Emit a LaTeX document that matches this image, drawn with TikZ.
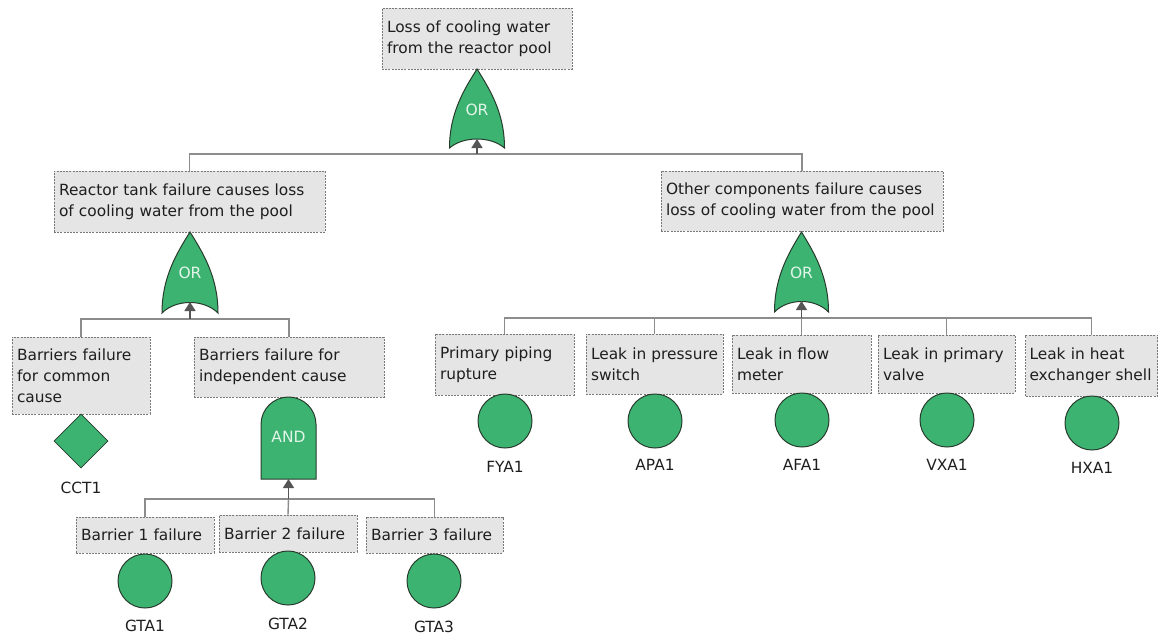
\documentclass[tikz,border=0pt]{standalone}
\usepackage{fontspec}
\setmainfont{DejaVu Sans}
\usetikzlibrary{arrows.meta,shapes.geometric}
\definecolor{gfill}{RGB}{60,179,113}
\definecolor{gline}{RGB}{40,60,45}
\definecolor{busc}{RGB}{140,140,140}
\definecolor{arrc}{RGB}{85,85,85}
\definecolor{boxfill}{RGB}{229,229,229}
\definecolor{boxline}{RGB}{120,120,120}
\definecolor{gtext}{RGB}{225,245,232}
\definecolor{txt}{RGB}{30,30,30}
\tikzset{
  evbox/.style={draw=boxline, fill=boxfill, line width=0.8pt, dash pattern=on 2pt off 1.2pt,
    align=left, inner xsep=5pt, inner ysep=0pt, text=txt, font=\fontsize{15.4}{21}\selectfont},
  gate/.style={draw=gline, fill=gfill, line width=1pt},
  gatetxt/.style={text=gtext, font=\fontsize{15.5}{18}\selectfont, inner sep=0pt},
  basic/.style={circle, draw=gline, fill=gfill, line width=1pt, minimum size=54pt, inner sep=0pt},
  undev/.style={diamond, aspect=1, draw=gline, fill=gfill, line width=0.8pt, minimum width=54pt, minimum height=54pt, inner sep=0pt},
  lab/.style={text=txt, font=\fontsize{15.4}{18}\selectfont, inner sep=0pt},
  bus/.style={draw=busc, line width=1.4pt},
  arr/.style={draw=arrc, line width=1.6pt, -{Triangle[width=11pt,length=9pt]}}
}
\newcommand\orgate[5]{% tip x, tip y, bottom y, half width, arc depth
  \draw[gate] (#1,#2) .. controls ({#1-0.45*#4},{#2+0.25*(#3-#2)}) and (#1-#4,{#3-0.45*(#3-#2)}) .. (#1-#4,#3)
    .. controls (#1-#4/2,#3-#5) and (#1+#4/2,#3-#5) .. (#1+#4,#3)
    .. controls (#1+#4,{#3-0.45*(#3-#2)}) and ({#1+0.45*#4},{#2+0.25*(#3-#2)}) .. (#1,#2) -- cycle;}
\begin{document}
\begin{tikzpicture}[x=1pt,y=-1pt]
\useasboundingbox[fill=white] (0,0) rectangle (1158,635);

% event boxes
\node[evbox, minimum width=190pt, text width=180pt, minimum height=61pt] (top) at (477,38.5)
  {Loss of cooling water\\from the reactor pool};
\node[evbox, minimum width=271pt, text width=261pt, minimum height=61pt] (L1) at (189.5,201.5)
  {Reactor tank failure causes loss\\of cooling water from the pool};
\node[evbox, minimum width=282pt, text width=272pt, minimum height=60pt] (R1) at (802,201)
  {Other components failure causes\\loss of cooling water from the pool};
\node[evbox, minimum width=138pt, text width=128pt, minimum height=77pt] (L2a) at (81,375.5)
  {Barriers failure\\for common\\cause};
\node[evbox, minimum width=190pt, text width=180pt, minimum height=60pt] (L2b) at (289,367)
  {Barriers failure for\\independent cause};
\node[evbox, minimum width=138pt, text width=128pt, minimum height=36pt] (B1) at (145,535) {Barrier 1 failure};
\node[evbox, minimum width=138pt, text width=128pt, minimum height=37pt] (B2) at (288,533.5) {Barrier 2 failure};
\node[evbox, minimum width=137pt, text width=127pt, minimum height=36pt] (B3) at (434.5,535) {Barrier 3 failure};
\node[evbox, minimum width=139pt, text width=129pt, minimum height=61pt] (P1) at (504.5,364.5)
  {Primary piping\\rupture};
\node[evbox, minimum width=137pt, text width=127pt, minimum height=60pt] (P2) at (654.5,364)
  {Leak in pressure\\switch};
\node[evbox, minimum width=139pt, text width=129pt, minimum height=58pt] (P3) at (801.5,364)
  {Leak in flow\\meter};
\node[evbox, minimum width=137pt, text width=127pt, minimum height=58pt] (P4) at (946.5,364)
  {Leak in primary\\valve};
\node[evbox, minimum width=132pt, text width=124pt, minimum height=61pt, inner xsep=4pt] (P5) at (1091.5,365.5)
  {Leak in heat\\exchanger shell};

% gates
\orgate{477}{69}{148}{27.5}{12}
\node[gatetxt] (g0) at (477,110) {OR};
\coordinate (g0in) at (477,139);
\orgate{190}{232}{313}{28}{14}
\node[gatetxt] (g1) at (190,273) {OR};
\coordinate (g1in) at (190,302);
\orgate{801.5}{232}{312}{27}{14}
\node[gatetxt] (g2) at (801.5,273) {OR};
\coordinate (g2in) at (801.5,301);
\draw[gate] (261,479) -- (261,424.5) .. controls (261,409.3) and (273.3,397) .. (288.5,397)
  .. controls (303.7,397) and (316,409.3) .. (316,424.5) -- (316,479) -- cycle;
\node[gatetxt] (g3) at (288.5,437) {AND};
\coordinate (g3in) at (288.5,479);

% basic and undeveloped events
\node[undev] (cct) at (81,441) {};
\node[lab] (cctl) at (81,488) {CCT1};
\node[basic] (e1) at (505,421) {};
\node[lab] (e1l) at (505,467) {FYA1};
\node[basic] (e2) at (655,421) {};
\node[lab] (e2l) at (655,465) {APA1};
\node[basic] (e3) at (802,420) {};
\node[lab] (e3l) at (802,465) {AFA1};
\node[basic] (e4) at (947,420) {};
\node[lab] (e4l) at (947,465) {VXA1};
\node[basic] (e5) at (1092,423) {};
\node[lab] (e5l) at (1092,468) {HXA1};
\node[basic] (t1) at (145,581) {};
\node[lab] (t1l) at (145,626) {GTA1};
\node[basic] (t2) at (288,578) {};
\node[lab] (t2l) at (288,624) {GTA2};
\node[basic] (t3) at (434,581) {};
\node[lab] (t3l) at (434,627) {GTA3};

% connectors
\coordinate (j0) at (477,154);
\draw[bus] (L1.north) |- (j0) -| (R1.north);
\draw[arr] (j0) -- (g0in);

\coordinate (j1) at (190,319);
\draw[bus] (L2a.north) |- (j1) -| (L2b.north);
\draw[arr] (j1) -- (g1in);

\coordinate (j2) at (801.5,318);
\draw[bus] (P1.north) |- (j2) -| (P5.north);
\draw[bus] (P2.north) -- (P2.north |- j2);
\draw[bus] (P4.north) -- (P4.north |- j2);
\draw[bus] (P3.north) -- (j2);
\draw[arr] (j2) -- (g2in);

\coordinate (j3) at (288.5,499);
\draw[bus] (B1.north) |- (j3) -| (B3.north);
\draw[bus] (B2.north) -- (j3);
\draw[arr] (j3) -- (g3in);
\end{tikzpicture}
\end{document}
